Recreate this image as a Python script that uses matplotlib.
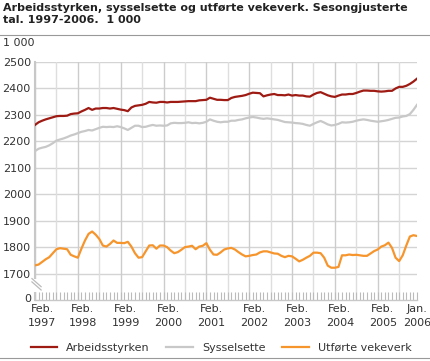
import matplotlib
matplotlib.use('Agg')
import matplotlib.pyplot as plt
import matplotlib.transforms as mtransforms
from matplotlib.lines import Line2D

# Monthly values, Feb 1997 - Jan 2006 (1 000 persons / weeks)
ARBEIDSSTYRKEN = [
    2262, 2272, 2278, 2283, 2287, 2291, 2295, 2296, 2296, 2297, 2303, 2305,
    2306, 2313, 2319, 2326, 2319, 2324, 2324, 2326, 2326, 2324, 2326, 2323,
    2320, 2318, 2314, 2328, 2334, 2336, 2338, 2342, 2349, 2347, 2346, 2349,
    2349, 2347, 2349, 2349, 2349, 2350, 2351, 2352, 2352, 2352, 2355, 2356,
    2357, 2365, 2361, 2357, 2357, 2356, 2356, 2364, 2368, 2370, 2372, 2375,
    2380, 2384, 2383, 2382, 2370, 2374, 2377, 2379, 2375, 2375, 2374, 2377,
    2373, 2375, 2373, 2373, 2370, 2369, 2377, 2383, 2386, 2380, 2374, 2370,
    2368, 2373, 2377, 2377, 2379, 2379, 2383, 2388, 2392, 2392, 2391, 2391,
    2389, 2388, 2389, 2391, 2391, 2400, 2406, 2406, 2410, 2417, 2426, 2437,
]
SYSSELSETTE = [
    2163, 2172, 2176, 2179, 2185, 2193, 2203, 2207, 2211, 2216, 2222, 2226,
    2231, 2236, 2239, 2243, 2241, 2246, 2251, 2255, 2254, 2255, 2254, 2257,
    2254, 2249, 2243, 2251, 2259, 2259, 2254, 2255, 2259, 2262, 2259, 2260,
    2259, 2260, 2268, 2270, 2269, 2269, 2270, 2272, 2269, 2270, 2268, 2270,
    2274, 2283, 2278, 2274, 2272, 2274, 2274, 2278, 2278, 2281, 2283, 2287,
    2290, 2292, 2290, 2287, 2285, 2287, 2285, 2283, 2281, 2277, 2273, 2272,
    2271, 2269, 2268, 2266, 2262, 2259, 2266, 2272, 2277, 2271, 2264, 2260,
    2262, 2266, 2272, 2271, 2272, 2274, 2278, 2281, 2283, 2281, 2278, 2276,
    2274, 2276, 2278, 2281, 2285, 2289, 2290, 2294, 2296, 2303, 2319, 2338,
]
UTFORTE_VEKEVERK = [
    1731, 1734, 1744, 1754, 1762, 1777, 1792, 1796, 1794, 1792, 1771, 1765,
    1760, 1794, 1825, 1850, 1859, 1847, 1831, 1806, 1802, 1812, 1825, 1816,
    1816, 1815, 1820, 1802, 1777, 1760, 1762, 1784, 1806, 1807, 1794, 1806,
    1806, 1800, 1787, 1777, 1781, 1790, 1800, 1802, 1805, 1792, 1802, 1805,
    1815, 1790, 1772, 1771, 1780, 1791, 1795, 1797, 1791, 1781, 1772, 1765,
    1767, 1770, 1772, 1780, 1784, 1784, 1780, 1776, 1775, 1767, 1762, 1767,
    1765, 1756, 1746, 1752, 1760, 1767, 1779, 1779, 1777, 1760, 1730, 1722,
    1722, 1725, 1769, 1769, 1772, 1770, 1771, 1769, 1767, 1767, 1776, 1785,
    1791, 1802, 1807, 1817, 1797, 1760, 1747, 1769, 1806, 1840, 1845, 1842,
]
X_LABELS = ['Feb.\n1997', 'Feb.\n1998', 'Feb.\n1999', 'Feb.\n2000', 'Feb.\n2001',
            'Feb.\n2002', 'Feb.\n2003', 'Feb.\n2004', 'Feb.\n2005', 'Jan.\n2006']
Y_TICKS = [1600, 1700, 1800, 1900, 2000, 2100, 2200, 2300, 2400, 2500]
Y_LABELS = ['0', '1700', '1800', '1900', '2000', '2100', '2200', '2300', '2400', '2500']
SERIES_NAMES = ['Arbeidsstyrken', 'Sysselsette', 'Utførte vekeverk']

COLORS = ['#9e1b14', '#c8c8c8', '#f7952d']
GRID_COLOR = '#d4d4d4'
TEXT_COLOR = '#333333'

plt.rcParams['font.family'] = ['DejaVu Sans']

fig = plt.figure(figsize=(4.30, 3.61), dpi=100)
ax = fig.add_axes([35 / 430, 1 - 300 / 361, 382 / 430, 238 / 361])

months = list(range(len(ARBEIDSSTYRKEN)))
for values, color in zip([ARBEIDSSTYRKEN, SYSSELSETTE, UTFORTE_VEKEVERK], COLORS):
    ax.plot(months, values, color=color, linewidth=1.6, solid_joinstyle='round', zorder=3)

ax.set_xlim(0, len(months) - 1)
ax.set_ylim(Y_TICKS[0], Y_TICKS[-1])

# grid: horizontal every 100, vertical every half year
for y in Y_TICKS[1:]:
    ax.axhline(y, color=GRID_COLOR, linewidth=1.0, zorder=1)
for m in range(0, len(months), 6):
    ax.axvline(m, color='#cccccc' if m % 12 == 0 else '#dedede', linewidth=1.0, zorder=1)

ax.set_yticks(Y_TICKS)
ax.set_yticklabels(Y_LABELS)
label_pos = list(range(0, len(months), 12))[:9] + [len(months) - 1]
ax.set_xticks(label_pos)
ax.set_xticklabels(X_LABELS, linespacing=1.5)
ax.set_xticks(months, minor=True)
ax.tick_params(axis='x', which='both', direction='in', length=6, width=0.8,
               color='#bbbbbb', labelsize=8, labelcolor=TEXT_COLOR, pad=3)
ax.tick_params(axis='y', length=0, labelsize=8, labelcolor=TEXT_COLOR, pad=3)

# shift year labels a bit to the right like the original
xlabels = ax.get_xticklabels()
for i, lab in enumerate(xlabels[:-1]):
    dx = 7 if i == 0 else 5
    lab.set_transform(lab.get_transform() +
                      mtransforms.ScaledTranslation(dx / 100, 0, fig.dpi_scale_trans))
zero_lab = ax.get_yticklabels()[0]
zero_lab.set_transform(zero_lab.get_transform() +
                       mtransforms.ScaledTranslation(0, 2 / 100, fig.dpi_scale_trans))

for side in ['top', 'right']:
    ax.spines[side].set_visible(False)
ax.spines['left'].set_color('#c8c8c8')
ax.spines['left'].set_linewidth(1.5)
ax.spines['bottom'].set_color('#c8c8c8')
ax.spines['bottom'].set_linewidth(1.0)

# axis break marks
ax.add_patch(plt.Rectangle((-0.02, 0.034), 0.03, 0.054, transform=ax.transAxes,
                           facecolor='white', edgecolor='none', clip_on=False, zorder=4))
for dy in [0, 0.014]:
    ax.plot([-0.008, 0.016], [0.076 + dy, 0.042 + dy], transform=ax.transAxes,
            color='#bbbbbb', linewidth=0.9, clip_on=False, zorder=5)

# title, unit, rules
fig.text(3 / 430, 1 - 3 / 361, 'Arbeidsstyrken, sysselsette og utførte vekeverk. Sesongjusterte\ntal. 1997-2006.  1 000',
         ha='left', va='top', fontsize=8.0, fontweight='bold', color='#222222', linespacing=1.3)
fig.add_artist(Line2D([0, 1], [1 - 35 / 361] * 2, color='#999999', linewidth=0.8))
fig.text(3 / 430, 1 - 43 / 361, '1 000', ha='left', va='center', fontsize=8, color=TEXT_COLOR)
fig.add_artist(Line2D([0, 1], [1 - 358 / 361] * 2, color='#999999', linewidth=0.8))

handles = [Line2D([], [], color=c, linewidth=1.6) for c in COLORS]
fig.legend(handles, SERIES_NAMES, loc='center', bbox_to_anchor=(221 / 430, 1 - 348 / 361),
           ncol=3, frameon=False, fontsize=8, handlelength=2.4, handletextpad=0.8,
           columnspacing=1.5, labelcolor=TEXT_COLOR)

fig.savefig('out.png', dpi=100)
